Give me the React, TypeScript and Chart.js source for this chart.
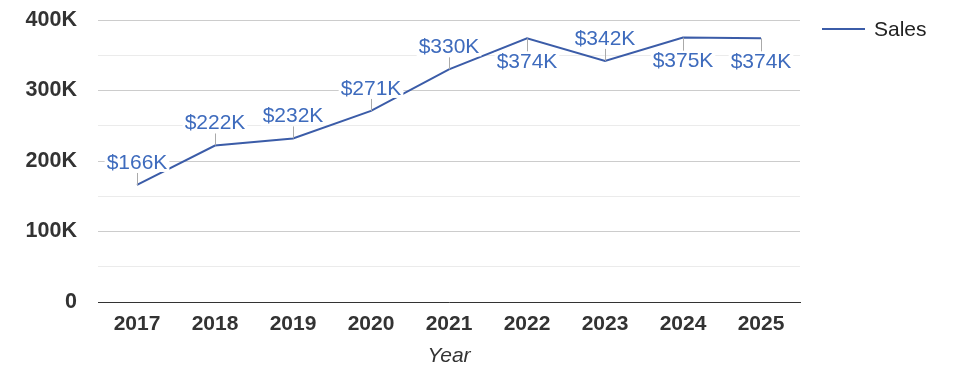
import React, { useEffect, useRef } from 'react';
import { Chart, registerables } from 'chart.js';

Chart.register(...registerables);

const years = ['2017', '2018', '2019', '2020', '2021', '2022', '2023', '2024', '2025'];
const sales = [166000, 222000, 232000, 271000, 330000, 374000, 342000, 375000, 374000];
const labelSide = ['above', 'above', 'above', 'above', 'above', 'below', 'above', 'below', 'below'];
const seriesName = 'Sales';
const axisTitle = 'Year';

const LINE_COLOR = '#3b5ca8';
const LABEL_COLOR = '#3e6bbd';
const FONT = '"Liberation Sans", Arial, Helvetica, sans-serif';

export default function App() {
  const ref = useRef<HTMLCanvasElement>(null);

  useEffect(() => {
    const canvas = ref.current!;
    const labelPlugin = {
      id: 'valueLabels',
      afterDatasetsDraw(chart: any) {
        const c = chart.ctx;
        const meta = chart.getDatasetMeta(0);
        c.save();
        c.font = `21px ${FONT}`;
        c.textAlign = 'center';
        c.textBaseline = 'middle';
        meta.data.forEach((pt: any, i: number) => {
          const text = '$' + Math.round(sales[i] / 1000) + 'K';
          const below = labelSide[i] === 'below';
          const y1 = below ? pt.y + 13 : pt.y - 12;
          const cy = below ? pt.y + 23 : pt.y - 23;
          const w = c.measureText(text).width;
          c.fillStyle = '#ffffff';
          c.fillRect(pt.x - w / 2 - 2, cy - 9, w + 4, 19);
          c.strokeStyle = '#aaaaaa';
          c.lineWidth = 1;
          const lx = Math.round(pt.x) + 0.5;
          c.beginPath();
          c.moveTo(lx, pt.y);
          c.lineTo(lx, y1);
          c.stroke();
          c.fillStyle = LABEL_COLOR;
          c.fillText(text, pt.x, cy + 1);
        });
        c.restore();
      },
    };

    const legendPlugin = {
      id: 'customLegend',
      afterDraw(chart: any) {
        const c = chart.ctx;
        const area = chart.chartArea;
        const x0 = area.right + 22;
        const y = 29;
        c.save();
        c.strokeStyle = LINE_COLOR;
        c.lineWidth = 2;
        c.beginPath();
        c.moveTo(x0, y);
        c.lineTo(x0 + 43, y);
        c.stroke();
        c.fillStyle = '#222222';
        c.font = `21px ${FONT}`;
        c.textAlign = 'left';
        c.textBaseline = 'middle';
        c.fillText(seriesName, x0 + 52, y + 1);
        c.restore();
      },
    };

    const chart = new Chart(canvas, {
      type: 'line',
      data: {
        labels: years,
        datasets: [
          {
            label: seriesName,
            data: sales,
            borderColor: LINE_COLOR,
            backgroundColor: LINE_COLOR,
            borderWidth: 2,
            pointRadius: 0,
            tension: 0,
          },
        ],
      },
      options: {
        responsive: false,
        animation: false,
        layout: { padding: { top: 20, right: 175, bottom: 0, left: 0 } },
        plugins: {
          legend: { display: false },
          tooltip: { enabled: false },
        },
        scales: {
          x: {
            offset: true,
            afterFit: (scale: any) => {
              scale.height = 76;
            },
            grid: { display: false, drawTicks: false },
            border: { display: true, color: '#333333', width: 1 },
            ticks: {
              color: '#333333',
              font: { family: FONT, size: 21, weight: 'bold' },
              padding: 10,
              maxRotation: 0,
            },
            title: {
              display: true,
              text: axisTitle,
              color: '#333333',
              font: { family: FONT, size: 21, style: 'italic' },
              padding: { top: 4, bottom: 9 },
            },
          },
          y: {
            min: 0,
            max: 400000,
            afterFit: (scale: any) => {
              scale.width = 98;
              scale.paddingTop = 0;
              scale.paddingBottom = 0;
            },
            grid: {
              drawTicks: false,
              color: (ctx: any) =>
                ctx.tick && ctx.tick.value % 100000 === 0 ? '#cccccc' : '#ebebeb',
            },
            border: { display: false },
            ticks: {
              stepSize: 50000,
              color: '#333333',
              font: { family: FONT, size: 21.5, weight: 'bold' },
              padding: 21,
              autoSkip: false,
              callback: (v: any) =>
                v % 100000 === 0 ? (v === 0 ? '0' : v / 1000 + 'K') : '',
            },
          },
        },
      },
      plugins: [labelPlugin, legendPlugin],
    });

    return () => chart.destroy();
  }, []);

  return (
    <div style={{ position: 'fixed', left: 0, top: 0, width: 975, height: 378, background: '#fff' }}>
      <canvas ref={ref} width={975} height={378} />
    </div>
  );
}
